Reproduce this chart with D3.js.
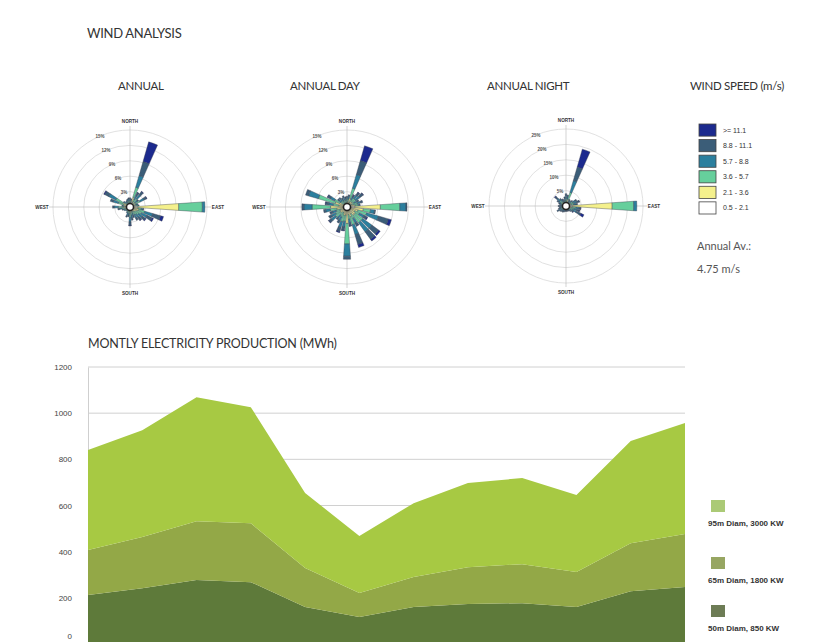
<!DOCTYPE html>
<html>
<head>
<meta charset="utf-8">
<script src="https://cdn.jsdelivr.net/npm/d3@7"></script>
<style>
body { margin: 0; background: #fff; }
svg { display: block; }
</style>
</head>
<body>
<div id="main"></div>
<script>
const cte = {
    w: 827,
    h: 642,
    roseR: 77,
    font: "Lato, 'Open Sans', sans-serif",
    small: "Arial, 'Liberation Sans', sans-serif",
};

// wind rose sectors (deg from north) and speed classes, inner -> outer
const directions = [0, 10, 20, 30, 40, 50, 60, 70, 80, 90, 100, 110, 120, 130, 140, 150, 160, 170,
                    180, 190, 200, 210, 220, 230, 240, 250, 260, 270, 280, 290, 300, 310, 320, 330, 340, 350];
const speedClasses = ["0.5 - 2.1", "2.1 - 3.6", "3.6 - 5.7", "5.7 - 8.8", "8.8 - 11.1", ">= 11.1"];
const speedColors = ["#ffffff", "#f4f08c", "#66cf9c", "#2b7f9e", "#3b5d78", "#1c2a8e"];

// frequency % per sector, one value per speed class
const annualRose = [
    [0.4,0.4,0.4,0.4,0.2,0], [0.4,0.4,0.4,0.3,0.1,0], [1.0,1.0,2.0,2.4,2.8,4.0], [0.5,0.5,0.7,0.8,0.6,0.1],
    [0.6,0.6,0.8,1.0,0.7,0.1], [0.4,0.4,0.5,0.5,0.3,0], [0.6,0.7,0.9,0.9,0.5,0.1], [0.4,0.4,0.4,0.3,0.1,0],
    [0.5,0.7,0.4,0.2,0,0], [1.5,8.0,4.6,0.5,0,0], [0.6,1.0,0.6,0.4,0.1,0], [0.8,1.0,1.2,1.6,1.6,0.6],
    [0.7,0.8,1.0,1.2,1.1,0.3], [0.6,0.7,0.8,0.9,0.7,0.2], [0.5,0.6,0.7,0.8,0.6,0.1], [0.5,0.5,0.7,0.7,0.5,0],
    [0.4,0.4,0.5,0.5,0.4,0], [0.5,0.5,0.6,0.6,0.4,0], [0.6,0.6,0.8,0.9,0.7,0.1], [0.4,0.4,0.4,0.4,0.3,0],
    [0.4,0.4,0.5,0.5,0.3,0], [0.4,0.4,0.3,0.2,0,0], [0.3,0.3,0.3,0.1,0,0], [0.3,0.3,0.3,0.2,0,0],
    [0.4,0.4,0.3,0.2,0,0], [0.4,0.4,0.4,0.3,0.1,0], [0.5,0.5,0.6,0.5,0.3,0], [0.6,0.7,1.0,0.8,0.3,0],
    [0.4,0.4,0.4,0.3,0.1,0], [0.6,0.7,1.1,1.0,0.6,0], [0.7,0.8,1.6,1.5,0.9,0.2], [0.4,0.4,0.4,0.3,0.1,0],
    [0.3,0.3,0.4,0.3,0,0], [0.3,0.3,0.4,0.3,0.1,0], [0.4,0.4,0.4,0.3,0.1,0], [0.4,0.4,0.4,0.4,0.2,0]
];
const dayRose = [
    [0.5,0.5,0.5,0.4,0.2,0], [0.5,0.5,0.6,0.5,0.3,0], [0.8,1.0,2.0,2.8,2.8,3.0], [0.5,0.5,0.6,0.6,0.4,0.1],
    [0.6,0.7,0.8,0.8,0.6,0.1], [0.6,0.7,0.8,1.0,0.8,0.1], [0.5,0.5,0.6,0.6,0.4,0], [0.6,0.7,0.8,0.7,0.4,0],
    [0.6,1.0,0.6,0.3,0.1,0], [1.5,5.0,3.8,1.2,0.2,0], [0.8,2.4,1.4,0.8,0.2,0], [0.8,1.4,1.8,2.4,2.0,0.6],
    [0.7,1.0,1.0,1.0,0.6,0.2], [0.8,1.2,1.8,2.2,1.6,0.4], [0.8,1.2,1.8,2.2,1.8,0.4], [0.6,0.9,1.0,1.0,0.6,0.1],
    [0.8,1.2,1.6,2.0,2.0,0.6], [0.6,0.9,0.9,0.8,0.5,0.1], [0.8,2.4,4.0,2.4,0.6,0], [0.6,1.0,1.2,1.1,0.7,0.1],
    [0.7,1.0,1.3,1.2,0.8,0.2], [0.5,0.8,0.9,0.8,0.5,0], [0.5,0.7,0.8,0.7,0.4,0], [0.6,1.0,1.2,1.0,0.6,0.1],
    [0.6,0.9,1.0,0.9,0.6,0], [0.5,0.8,0.9,0.8,0.5,0], [0.6,1.4,1.3,0.9,0.4,0], [0.8,2.4,3.6,1.6,0.4,0],
    [0.6,1.0,1.1,0.9,0.6,0.1], [0.6,1.8,3.4,2.0,0.6,0], [0.6,1.0,1.1,0.9,0.6,0.1], [0.4,0.5,0.6,0.5,0.3,0],
    [0.4,0.5,0.6,0.5,0.3,0], [0.4,0.4,0.5,0.4,0.3,0], [0.4,0.5,0.6,0.5,0.3,0], [0.4,0.4,0.5,0.4,0.3,0]
];
const nightRose = [
    [0.8,0.8,1.0,0.8,0.6,0], [0.7,0.7,0.9,0.8,0.5,0], [1.0,1.2,2.4,4.0,4.6,6.0], [0.5,0.5,0.6,0.5,0.3,0],
    [0.4,0.5,0.5,0.5,0.3,0], [0.5,0.6,0.6,0.6,0.4,0], [0.7,0.8,0.9,0.9,0.6,0], [0.8,0.9,1.0,1.0,0.8,0.1],
    [0.7,0.9,0.9,0.8,0.5,0], [2.0,13.0,7.0,1.0,0,0], [0.9,1.2,1.2,0.9,0.6,0.1], [0.8,0.9,1.0,1.0,0.8,0.2],
    [0.6,0.8,1.0,1.4,1.6,1.1], [0.5,0.6,0.7,0.6,0.5,0.2], [0.4,0.5,0.5,0.5,0.4,0], [0.4,0.4,0.4,0.4,0.3,0],
    [0.3,0.4,0.4,0.4,0.3,0], [0.3,0.4,0.4,0.4,0.3,0], [0.3,0.4,0.4,0.4,0.3,0], [0.3,0.4,0.4,0.4,0.3,0],
    [0.4,0.4,0.5,0.5,0.3,0], [0.4,0.5,0.5,0.5,0.4,0], [0.4,0.5,0.5,0.5,0.4,0], [0.5,0.5,0.6,0.6,0.4,0],
    [0.6,0.6,0.7,0.8,0.6,0], [0.5,0.5,0.6,0.6,0.4,0], [0.4,0.5,0.5,0.5,0.3,0], [0.5,0.5,0.6,0.6,0.4,0],
    [0.4,0.4,0.5,0.5,0.3,0], [0.4,0.5,0.6,0.6,0.4,0], [0.6,0.6,0.7,0.8,0.6,0], [0.8,0.8,0.9,1.0,0.9,0.3],
    [0.6,0.6,0.7,0.7,0.5,0], [0.5,0.5,0.6,0.6,0.4,0], [0.4,0.5,0.5,0.5,0.4,0], [0.5,0.6,0.7,0.7,0.5,0]
];
const annualRings = [3, 6, 9, 12, 15];
const dayRings = [3, 6, 9, 12, 15];
const nightRings = [5, 10, 15, 20, 25];
const roseTitles = ["ANNUAL", "ANNUAL DAY", "ANNUAL NIGHT"];

// monthly production (MWh) by turbine
const months = ["Jan", "Feb", "Mar", "Apr", "May", "Jun", "Jul", "Aug", "Sep", "Oct", "Nov", "Dec"];
const prod50 = [212, 242, 277, 268, 160, 117, 160, 173, 177, 160, 229, 247];
const prod65 = [195, 221, 255, 255, 169, 104, 130, 160, 169, 152, 208, 229];
const prod95 = [433, 463, 537, 503, 325, 247, 320, 364, 373, 333, 442, 481];
const turbines = ["50m Diam, 850 KW", "65m Diam, 1800 KW", "95m Diam, 3000 KW"];
const turbineColors = ["#5e7a3a", "#93a847", "#a7c943"];
const turbineSwatch = ["#6d7c55", "#97a662", "#abca76"];
const yTicks = [0, 200, 400, 600, 800, 1000, 1200];

function drawRose(svg, cx, cy, data, rings) {
    const g = svg.append("g").attr("transform", `translate(${cx},${cy})`);
    const r = d3.scaleLinear().domain([0, d3.max(rings)]).range([0, cte.roseR]);

    g.selectAll("circle.ring")
        .data(rings)
        .enter().append("circle")
        .attr("class", "ring")
        .attr("r", d => r(d))
        .attr("fill", "none")
        .attr("stroke", "#d9d9d9")
        .attr("stroke-width", 0.8);

    g.append("line").attr("x1", -cte.roseR - 4).attr("x2", cte.roseR + 4)
        .attr("stroke", "#b5b5b5").attr("stroke-width", 0.6);
    g.append("line").attr("y1", -cte.roseR - 4).attr("y2", cte.roseR + 4)
        .attr("stroke", "#b5b5b5").attr("stroke-width", 0.6);

    const arc = d3.arc();
    const toRad = Math.PI / 180;
    const segs = [];
    data.forEach((row, i) => {
        let cum = 0;
        row.forEach((v, k) => {
            if (v > 0) segs.push({ dir: directions[i], k: k, a: cum, b: cum + v });
            cum += v;
        });
    });

    g.selectAll("path.petal")
        .data(segs)
        .enter().append("path")
        .attr("class", "petal")
        .attr("d", d => arc({
            innerRadius: r(d.a),
            outerRadius: r(d.b),
            startAngle: (d.dir - 4) * toRad,
            endAngle: (d.dir + 4) * toRad
        }))
        .attr("fill", d => speedColors[d.k])
        .attr("stroke", "#39404e")
        .attr("stroke-width", 0.4);

    g.append("circle").attr("r", 3.5)
        .attr("fill", "#fff").attr("stroke", "#222").attr("stroke-width", 1.5);

    // ring labels along NNW
    const la = -23 * toRad;
    g.selectAll("text.rl")
        .data(rings)
        .enter().append("text")
        .attr("class", "rl")
        .attr("x", d => r(d) * Math.sin(la))
        .attr("y", d => -r(d) * Math.cos(la) + 1.5)
        .attr("text-anchor", "middle")
        .style("font-family", cte.small)
        .style("font-size", "4.5px")
        .style("font-weight", "bold")
        .style("fill", "#555")
        .text(d => d + "%");

    const card = [["NORTH", 0, -86], ["SOUTH", 0, 86], ["EAST", 88, 0], ["WEST", -88, 0]];
    g.selectAll("text.card")
        .data(card)
        .enter().append("text")
        .attr("class", "card")
        .attr("x", d => d[1])
        .attr("y", d => d[2] + 1.6)
        .attr("text-anchor", "middle")
        .style("font-family", cte.small)
        .style("font-size", "4.6px")
        .style("font-weight", "bold")
        .style("fill", "#333")
        .text(d => d[0]);
}

function drawWindSection(svg) {
    svg.append("text")
        .attr("x", 87).attr("y", 38)
        .style("font-family", cte.font)
        .style("font-size", "13px")
        .style("fill", "#333")
        .style("letter-spacing", "-0.3px")
        .text("WIND ANALYSIS");

    const titleX = [118, 290, 487];
    svg.selectAll("text.rt")
        .data(roseTitles)
        .enter().append("text")
        .attr("class", "rt")
        .attr("x", (d, i) => titleX[i]).attr("y", 90)
        .style("font-family", cte.font)
        .style("font-size", "11.5px")
        .style("fill", "#333")
        .style("letter-spacing", "-0.3px")
        .text(d => d);

    drawRose(svg, 130, 207, annualRose, annualRings);
    drawRose(svg, 347, 207, dayRose, dayRings);
    drawRose(svg, 566, 206, nightRose, nightRings);

    // speed legend
    const lg = svg.append("g").attr("transform", "translate(690,0)");
    lg.append("text")
        .attr("x", 0).attr("y", 90)
        .style("font-family", cte.font)
        .style("font-size", "11.5px")
        .style("fill", "#333")
        .style("letter-spacing", "-0.3px")
        .text("WIND SPEED (m/s)");

    const legendRows = speedClasses.slice().reverse();
    const legendCols = speedColors.slice().reverse();
    const ly = d3.scaleBand().domain(legendRows).range([124, 214]).paddingInner(0.22);
    lg.selectAll("rect.sw")
        .data(legendRows)
        .enter().append("rect")
        .attr("class", "sw")
        .attr("x", 9).attr("y", d => ly(d))
        .attr("width", 17).attr("height", ly.bandwidth())
        .attr("fill", (d, i) => legendCols[i])
        .attr("stroke", "#444").attr("stroke-width", 0.8);
    lg.selectAll("text.sl")
        .data(legendRows)
        .enter().append("text")
        .attr("class", "sl")
        .attr("x", 33).attr("y", d => ly(d) + ly.bandwidth() / 2 + 2.5)
        .style("font-family", cte.small)
        .style("font-size", "7px")
        .style("fill", "#333")
        .text(d => d);

    lg.append("text").attr("x", 7).attr("y", 250)
        .style("font-family", cte.font).style("font-size", "11px").style("fill", "#555")
        .text("Annual Av.:");
    lg.append("text").attr("x", 7).attr("y", 273)
        .style("font-family", cte.font).style("font-size", "11px").style("fill", "#555")
        .text("4.75 m/s");
}

function drawProduction(svg) {
    const x = d3.scalePoint().domain(months).range([88, 685]);
    const y = d3.scaleLinear().domain([0, 1200]).range([644, 367]);

    svg.append("text")
        .attr("x", 88).attr("y", 348)
        .style("font-family", cte.font)
        .style("font-size", "12.5px")
        .style("fill", "#333")
        .style("letter-spacing", "-0.2px")
        .text("MONTLY ELECTRICITY PRODUCTION (MWh)");

    svg.append("g")
        .selectAll("line")
        .data(yTicks)
        .enter().append("line")
        .attr("x1", 88).attr("x2", 685)
        .attr("y1", d => y(d)).attr("y2", d => y(d))
        .attr("stroke", "#d0d0d0").attr("stroke-width", 1);

    const yAxis = svg.append("g")
        .attr("transform", "translate(88,0)")
        .call(d3.axisLeft(y).tickValues(yTicks).tickFormat(d3.format("d")).tickSize(0).tickPadding(16));
    yAxis.select(".domain").attr("stroke", "#cfcfcf");
    yAxis.selectAll("text")
        .style("font-family", cte.small)
        .style("font-size", "8px")
        .style("fill", "#444");
    // the zero label sits on the bottom edge; lift it just inside
    yAxis.selectAll(".tick text").filter(d => d === 0).attr("dy", "-0.75em");

    const table = months.map((m, i) => ({ month: m, s50: prod50[i], s65: prod65[i], s95: prod95[i] }));
    const stack = d3.stack().keys(["s50", "s65", "s95"]);
    const series = stack(table);
    const area = d3.area()
        .x(d => x(d.data.month))
        .y0(d => y(d[0]))
        .y1(d => y(d[1]));

    svg.append("g")
        .selectAll("path")
        .data(series)
        .enter().append("path")
        .attr("d", area)
        .attr("fill", (d, i) => turbineColors[i]);

    // turbine legend
    const legY = [500, 557, 605];
    const legend = svg.append("g");
    turbines.forEach((t, i) => {
        const k = 2 - i;
        legend.append("rect")
            .attr("x", 711).attr("y", legY[k])
            .attr("width", 14).attr("height", 12)
            .attr("fill", turbineSwatch[i]);
        legend.append("text")
            .attr("x", 708).attr("y", legY[k] + 26)
            .style("font-family", cte.small)
            .style("font-size", "8px")
            .style("font-weight", "bold")
            .style("fill", "#333")
            .text(t);
    });
}

function createVisualisation() {
    const svg = d3.select("#main").append("svg")
        .attr("width", cte.w)
        .attr("height", cte.h);
    drawWindSection(svg);
    drawProduction(svg);
}

createVisualisation();
</script>
</body>
</html>
